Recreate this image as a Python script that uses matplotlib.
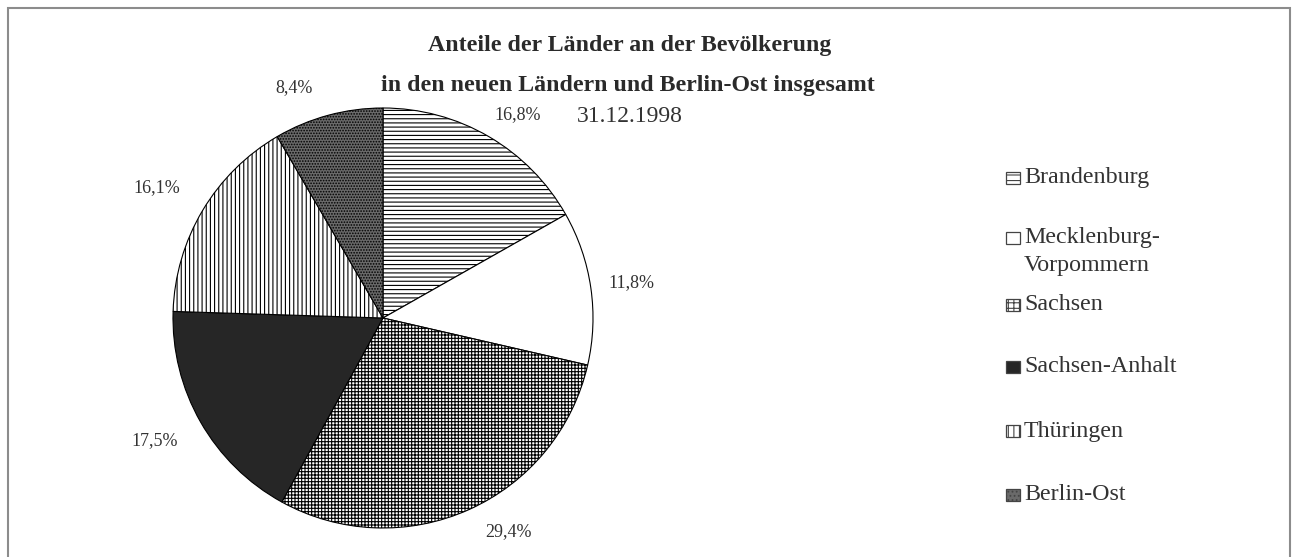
import matplotlib
matplotlib.use("Agg")
import matplotlib.pyplot as plt
from matplotlib.patches import Rectangle

# ---- data ----
laender = ["Brandenburg", "Mecklenburg-\nVorpommern", "Sachsen",
           "Sachsen-Anhalt", "Thüringen", "Berlin-Ost"]
anteile = [16.8, 11.8, 29.4, 17.5, 16.1, 8.4]
title_lines = ["Anteile der Länder an der Bevölkerung",
               "in den neuen Ländern und Berlin-Ost insgesamt"]
datum = "31.12.1998"

# ---- styles ----
face = ["white", "white", "white", "#262626", "white", "#6a6a6a"]
hatches = ["----", None, "+++++", None, "||||", "......"]
leg_hatches = ["---", None, "+++", None, "|||", "...."]
W, H = 1299, 557
label_pos = [(518, 115), (631, 283), (509, 532), (155, 441), (157, 188), (294, 88)]
legend_y = [178, 238, 305, 367, 431, 495]

plt.rcParams["font.family"] = ["Liberation Serif", "DejaVu Serif"]
plt.rcParams["hatch.linewidth"] = 0.8

fig = plt.figure(figsize=(W / 100, H / 100), dpi=100)
ax = fig.add_axes([0, 0, 1, 1])

def Y(y):
    return H - y

wedges, texts = ax.pie(
    anteile,
    labels=[f"{v:.1f}%".replace(".", ",") for v in anteile],
    labeldistance=1.2,
    center=(383, Y(318)), radius=210,
    startangle=90, counterclock=False,
    colors=face, hatch=hatches,
    wedgeprops=dict(edgecolor="black", linewidth=0.8),
    textprops=dict(fontsize=13, color="#333333"),
)
for t, (x, y) in zip(texts, label_pos):
    t.set_position((x, Y(y)))
    t.set_ha("center")
    t.set_va("center")

ax.set_xlim(0, W)
ax.set_ylim(0, H)
ax.set_aspect("equal")
ax.axis("off")

# frame
ax.add_patch(Rectangle((8, Y(557) - 5), 1290 - 8, Y(8) - (Y(557) - 5),
                       fill=False, edgecolor="#8c8c8c", linewidth=1.5))

# title
ax.text(630, Y(46), title_lines[0], ha="center", va="center",
        fontsize=17.2, fontweight="bold", color="#2a2a2a")
ax.text(628, Y(85), title_lines[1], ha="center", va="center",
        fontsize=17.2, fontweight="bold", color="#2a2a2a")
ax.text(630, Y(116), datum, ha="center", va="center",
        fontsize=17, color="#333333")

# legend
for lab, fc, hp, y in zip(laender, face, leg_hatches, legend_y):
    ax.add_patch(Rectangle((1006, Y(y) - 6), 14, 12, facecolor=fc,
                           hatch=hp, edgecolor="#444444", linewidth=0.9))
    for k, line in enumerate(lab.split("\n")):
        ax.text(1024, Y(y + 27 * k), line, ha="left", va="center",
                fontsize=17.3, color="#333333")

fig.savefig("out.png", dpi=100, facecolor="white")
